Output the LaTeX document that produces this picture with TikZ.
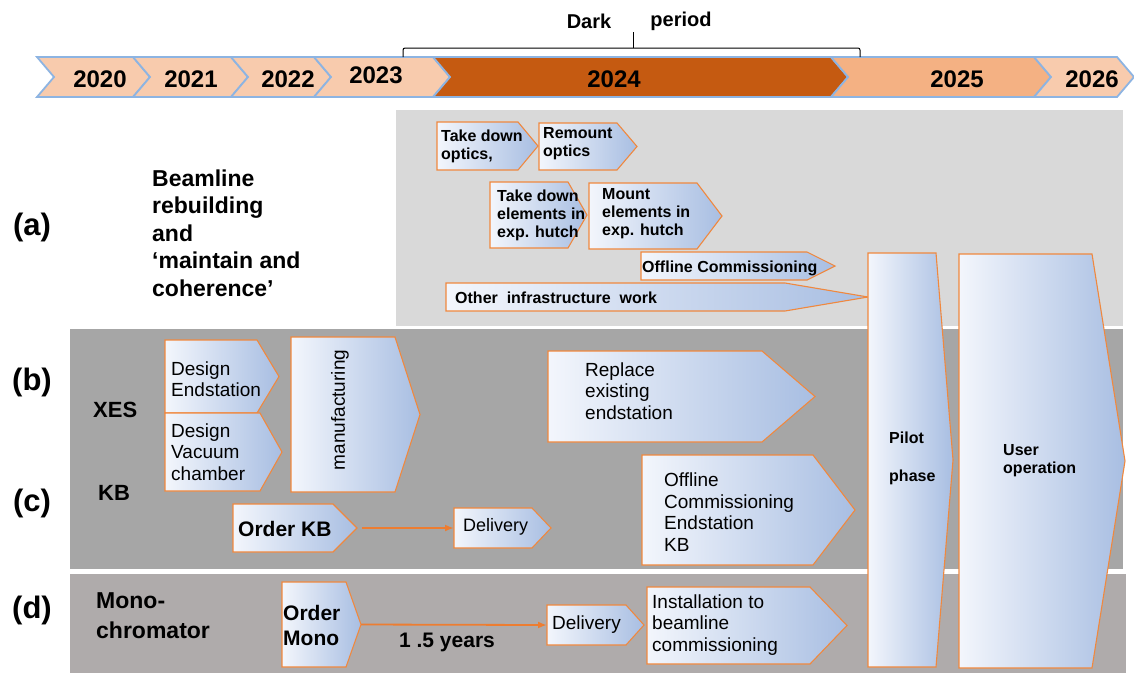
\documentclass[tikz,border=0pt]{standalone}
\usepackage{fontspec}
\setmainfont{Liberation Sans}
\usetikzlibrary{arrows.meta}
\definecolor{peach}{HTML}{F8CBAD}
\definecolor{peachdark}{HTML}{F4B183}
\definecolor{rust}{HTML}{C55A11}
\definecolor{yearline}{HTML}{8DB4E2}
\definecolor{panela}{HTML}{D9D9D9}
\definecolor{panelbc}{HTML}{A6A6A6}
\definecolor{paneld}{HTML}{AFABAB}
\definecolor{boxline}{HTML}{F0883E}
\definecolor{boxleft}{HTML}{F3F6FC}
\definecolor{boxright}{HTML}{A8BEE2}
\definecolor{flowline}{HTML}{ED7D31}

\newcommand{\fs}[2]{\fontsize{#1}{#2}\selectfont}
% chevron box: name, left x, top y, corner x, tip x, bottom y
\newcommand{\actbox}[6]{%
  \draw[actbox] (#2,#3) -- (#4,#3) -- (#5,{(#3+#6)/2}) -- (#4,#6) -- (#2,#6) -- cycle;
  \coordinate (#1) at (#2,{(#3+#6)/2});
  \coordinate (#1-tip) at (#5,{(#3+#6)/2});}

\begin{document}
\begin{tikzpicture}[x=1pt,y=-1pt,
yearbox/.style={draw=yearline,line width=1.8pt},
yeartxt/.style={font=\bfseries\fs{24}{26},inner sep=0},
actbox/.style={draw=boxline,line width=1.1pt,left color=boxleft,right color=boxright},
btxt/.style={font=\bfseries\fs{16}{18},align=left,anchor=west,inner sep=0},
rtxt/.style={font=\fs{19}{21.5},align=left,anchor=west,inner sep=0},
rowlbl/.style={font=\bfseries\fs{31}{34},inner sep=0},
sidelbl/.style={font=\bfseries\fs{23}{27.5},align=left,anchor=west,inner sep=0},
flow/.style={draw=flowline,line width=1.8pt,-{Latex[length=9pt,width=7pt]}}
]
\useasboundingbox (0,0) rectangle (1134,673);

% time line
\foreach \nm/\l/\r/\col/\tx/\ty in {2020/37/133/peach/100/79,2021/133/231/peach/191/79,
  2022/231/314/peach/288/79,2023/314/433/peach/376/75,2024/433/831/rust/614/79,
  2025/831/1034/peachdark/957/79,2026/1034/1117/peach/1092/79}{
  \draw[yearbox,fill=\col] (\l,57) -- (\r,57) -- (\r+17,77) -- (\r,97) -- (\l,97) -- (\l+17,77) -- cycle;
  \node[yeartxt] (y\nm) at (\tx,\ty) {\nm};
}
\draw[line width=1pt,rounded corners=2pt] (403,57) -- (403,48) -- (860,48) -- (860,57);
\draw[line width=1pt] (633,48) -- (633,32);
\node[font=\bfseries\fs{20}{22},inner sep=0] (dark) at (589,21) {Dark};
\node[font=\bfseries\fs{20}{22},inner sep=0] (period) at (681,21) {period};

% panels
\fill[panela] (396,110) rectangle (1123,326);
\fill[panelbc] (70,329) rectangle (1123,569);
\fill[paneld] (70,574) rectangle (1126,673);

% row labels
\node[rowlbl] (rowa) at (32,227) {(a)};
\node[rowlbl] (rowb) at (32,382) {(b)};
\node[rowlbl] (rowc) at (32,503) {(c)};
\node[rowlbl] (rowd) at (32,610) {(d)};
\node[sidelbl] (beamline) at (152,233) {Beamline\\rebuilding\\and\\‘maintain and\\coherence’};
\node[sidelbl,font=\bfseries\fs{22}{24}] (xes) at (93,410) {XES};
\node[sidelbl,font=\bfseries\fs{22}{24}] (kb) at (98,493) {KB};
\node[sidelbl,font=\bfseries\fs{23}{30}] (mono) at (96,616) {Mono-\\chromator};

% (a) beamline
\actbox{tdopt}{437}{122}{518}{538}{170}
\actbox{remopt}{539}{123}{617}{637}{170}
\actbox{tdel}{490}{182}{568}{587}{248}
\actbox{mel}{589}{183}{697}{722}{249}
\actbox{offc}{641}{252}{807}{835}{280}
\actbox{infra}{446}{283}{785}{868}{311}
\node[btxt] (t-tdopt) at (441,146) {Take down\\optics,};
\node[btxt] (t-remopt) at (543,144) {Remount\\optics};
\node[btxt] (t-tdel) at (497,215) {Take down\\elements in\\exp. hutch};
\node[btxt] (t-mel) at (602,214) {Mount\\elements in\\exp. hutch};
\node[btxt] (t-offc) at (642,268) {Offline Commissioning};
\node[btxt] (t-infra) at (455,298) {Other\ \ infrastructure\ \ work};

% (b) XES and (c) KB
\actbox{desend}{165}{340}{257}{279}{413}
\actbox{desvac}{165}{413}{260}{282}{491}
\actbox{manuf}{291}{337}{395}{420}{492}
\actbox{okb}{233}{504}{333}{357}{552}
\actbox{kbdel}{454}{508}{532}{551}{548}
\actbox{replace}{548}{351}{762}{815}{442}
\actbox{offkb}{642}{455}{813}{855}{565}
\node[rtxt] (t-desend) at (171,379) {Design\\Endstation};
\node[rtxt] (t-desvac) at (171,452) {Design\\Vacuum\\chamber};
\node[rtxt,anchor=center,rotate=90] (t-manuf) at (340,410) {manufacturing};
\node[btxt,font=\bfseries\fs{21}{24}] (t-okb) at (238,529) {Order KB};
\node[rtxt,font=\fs{18}{20}] (t-kbdel) at (463,527) {Delivery};
\node[rtxt] (t-replace) at (585,391) {Replace\\existing\\endstation};
\node[rtxt] (t-offkb) at (664,512) {Offline\\Commissioning\\Endstation\\KB};
\draw[flow] ([xshift=5pt]okb-tip) -- (kbdel);

% (d) monochromator
\actbox{omono}{282}{582}{346}{361}{667}
\actbox{mdel}{547}{605}{626}{644}{645}
\actbox{install}{647}{587}{810}{847}{664}
\node[btxt,font=\bfseries\fs{21}{25}] (t-omono) at (283,625) {Order\\Mono};
\node[font=\bfseries\fs{21}{24},inner sep=0] (years) at (447,642) {1 .5 years};
\node[rtxt] (t-mdel) at (552,625) {Delivery};
\node[rtxt] (t-install) at (652,625) {Installation to\\beamline\\commissioning};
\draw[flow] (omono-tip) -- (mdel);

% pilot and user phase
\actbox{pilot}{868}{253}{936}{953}{667}
\actbox{user}{959}{254}{1092}{1125}{668}
\node[btxt] (t-pilot) at (889,458) {Pilot\\[20pt]phase};
\node[btxt] (t-user) at (1003,461) {User\\operation};
\end{tikzpicture}
\end{document}
